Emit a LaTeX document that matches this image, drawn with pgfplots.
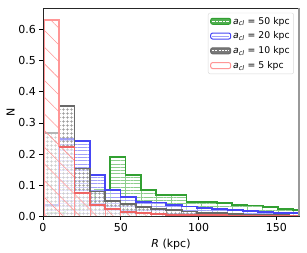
\documentclass[border=0pt]{standalone}
\usepackage{fontspec}
\setmainfont{DejaVu Sans}
\usepackage{pgfplots}
\pgfplotsset{compat=1.18}
\usetikzlibrary{patterns.meta}
\definecolor{greenD}{RGB}{50,160,50}
\definecolor{greenL}{RGB}{140,205,140}
\definecolor{blueD}{RGB}{70,70,245}
\definecolor{blueL}{RGB}{160,160,250}
\definecolor{grayD}{RGB}{105,105,105}
\definecolor{grayL}{RGB}{150,150,150}
\definecolor{redD}{RGB}{238,100,100}
\definecolor{redL}{RGB}{255,150,150}
\begin{document}
\begin{tikzpicture}
\begin{axis}[
 scale only axis, width=256pt, height=208.5pt,
 xmin=0, xmax=164.6, ymin=0, ymax=0.668,
 xtick={0,50,100,150}, ytick={0,0.1,0.2,0.3,0.4,0.5,0.6},
 tick pos=left, tick align=outside, major tick length=3.5pt,
 tick style={black, line width=0.6pt},
 /pgf/number format/assume math mode=true,
 yticklabel style={/pgf/number format/.cd, fixed, fixed zerofill, precision=1},
 tick label style={font=\fontsize{11}{13}\selectfont},
 label style={font=\fontsize{11}{13}\selectfont},
 xlabel={\textit{R} (kpc)}, ylabel={N}, ylabel shift=-3pt,
 axis line style={line width=0.7pt, black!85},
 axis on top,
 legend style={at={(0.98,0.977)}, anchor=north east, draw=black!15, rounded corners=2pt,
   font=\fontsize{9.3}{10.5}\selectfont, row sep=2.2pt, inner sep=2pt},
 legend cell align=left,
]
% ---- a_cl = 50 kpc (green)
\addplot[forget plot, ybar interval, draw=greenL, line width=0.6pt,
  preaction={fill=white, fill opacity=0.5},
  pattern={Lines[angle=0,distance=3.3pt,line width=0.6pt]}, pattern color=greenL]
 coordinates {(4.1,0.012) (13.9,0.02) (23.7,0.04) (33.5,0.085) (43.3,0.19) (53.1,0.133)
 (62.9,0.085) (72.7,0.069) (82.5,0.069) (92.3,0.047) (102.1,0.047) (111.9,0.042)
 (121.7,0.037) (131.5,0.035) (141.3,0.03) (151.1,0.023) (160.9,0.02) (170.7,0.02)};
\addplot[forget plot, const plot, draw=greenD, line width=1.8pt]
 coordinates {(4.1,0) (4.1,0.012) (13.9,0.02) (23.7,0.04) (33.5,0.085) (43.3,0.19) (53.1,0.133)
 (62.9,0.085) (72.7,0.069) (82.5,0.069) (92.3,0.047) (102.1,0.047) (111.9,0.042)
 (121.7,0.037) (131.5,0.035) (141.3,0.03) (151.1,0.023) (160.9,0.02) (170.7,0.02)};
% ---- a_cl = 20 kpc (blue)
\addplot[forget plot, ybar interval, draw=blueL, line width=0.6pt,
  preaction={fill=white, fill opacity=0.5},
  pattern={Lines[angle=0,distance=3.3pt,line width=0.6pt]}, pattern color=blueL]
 coordinates {(0.6,0.037) (10.44,0.248) (20.28,0.243) (30.12,0.133) (39.96,0.085) (49.8,0.063)
 (59.64,0.047) (69.48,0.045) (79.32,0.037) (89.16,0.032) (99.0,0.028) (108.84,0.023)
 (118.68,0.021) (128.52,0.018) (138.36,0.014) (148.2,0.012) (158.04,0.011) (167.88,0.011)};
\addplot[forget plot, const plot, draw=blueD, line width=1.8pt]
 coordinates {(0.6,0) (0.6,0.037) (10.44,0.248) (20.28,0.243) (30.12,0.133) (39.96,0.085) (49.8,0.063)
 (59.64,0.047) (69.48,0.045) (79.32,0.037) (89.16,0.032) (99.0,0.028) (108.84,0.023)
 (118.68,0.021) (128.52,0.018) (138.36,0.014) (148.2,0.012) (158.04,0.011) (167.88,0.011)};
% ---- a_cl = 10 kpc (gray)
\addplot[forget plot, ybar interval, draw=grayL, line width=0.5pt,
  preaction={fill=white, fill opacity=0.5},
  pattern={Hatch[angle=0,distance=4pt,line width=0.5pt]}, pattern color=grayL]
 coordinates {(0.6,0.267) (10.44,0.355) (20.28,0.154) (30.12,0.08) (39.96,0.05) (49.8,0.04)
 (59.64,0.03) (69.48,0.024) (79.32,0.02) (89.16,0.016) (99.0,0.012) (108.84,0.01)
 (118.68,0.008) (128.52,0.006) (138.36,0.005) (148.2,0.004) (158.04,0.003) (167.88,0.003)};
\addplot[forget plot, const plot, draw=grayD, line width=1.8pt]
 coordinates {(0.6,0) (0.6,0.267) (10.44,0.355) (20.28,0.154) (30.12,0.08) (39.96,0.05) (49.8,0.04)
 (59.64,0.03) (69.48,0.024) (79.32,0.02) (89.16,0.016) (99.0,0.012) (108.84,0.01)
 (118.68,0.008) (128.52,0.006) (138.36,0.005) (148.2,0.004) (158.04,0.003) (167.88,0.003)};
% ---- a_cl = 5 kpc (red)
\addplot[forget plot, ybar interval, draw=redL, line width=0.5pt,
  preaction={fill=white, fill opacity=0.5},
  pattern={Lines[angle=-45,distance=11.8pt,line width=0.6pt]}, pattern color=redL]
 coordinates {(0.6,0.63) (10.44,0.222) (20.28,0.074) (30.12,0.037) (39.96,0.023) (49.8,0.015)
 (59.64,0.01) (69.48,0.008) (79.32,0.006) (89.16,0.005) (99.0,0.004) (108.84,0.004)
 (118.68,0.003) (128.52,0.002) (138.36,0.002) (148.2,0.001) (158.04,0.001) (167.88,0.001)};
\addplot[forget plot, const plot, draw=redL, line width=1.8pt]
 coordinates {(0.6,0) (0.6,0.63) (10.44,0.222) (10.44,0.222)};
\addplot[forget plot, const plot, draw=redD, line width=1.8pt]
 coordinates {(10.44,0.222) (20.28,0.074) (30.12,0.037) (39.96,0.023) (49.8,0.015)
 (59.64,0.01) (69.48,0.008) (79.32,0.006) (89.16,0.005) (99.0,0.004) (108.84,0.004)
 (118.68,0.003) (128.52,0.002) (138.36,0.002) (148.2,0.001) (158.04,0.001) (167.88,0.001)};
% ---- legend
\addlegendimage{legend image code/.code={
  \draw[draw=greenD, fill=greenD!85, line width=1pt] (0pt,-3pt) rectangle (20pt,3pt);
  \draw[white, dash pattern=on 2.5pt off 1pt, line width=0.8pt] (1.5pt,0pt) -- (18.5pt,0pt);}}
\addlegendentry{\textit{a}\textsubscript{\textit{cl}} = 50 kpc}
\addlegendimage{legend image code/.code={
  \draw[draw=blueD, fill=white, line width=1pt] (0pt,-3pt) rectangle (20pt,3pt);
  \draw[blueL, line width=0.8pt] (1.5pt,0pt) -- (18.5pt,0pt);}}
\addlegendentry{\textit{a}\textsubscript{\textit{cl}} = 20 kpc}
\addlegendimage{legend image code/.code={
  \draw[draw=grayD, fill=grayD!90, line width=1pt] (0pt,-3pt) rectangle (20pt,3pt);
  \draw[white, dash pattern=on 2pt off 1.2pt, line width=1pt] (1.5pt,0pt) -- (18.5pt,0pt);}}
\addlegendentry{\textit{a}\textsubscript{\textit{cl}} = 10 kpc}
\addlegendimage{legend image code/.code={
  \draw[draw=redL, fill=white, line width=1pt] (0pt,-3pt) rectangle (20pt,3pt);}}
\addlegendentry{\textit{a}\textsubscript{\textit{cl}} = 5 kpc}
\end{axis}
\draw[black!40, line width=2.2pt] (current axis.south east) -- (current axis.north east);
\path ([shift={(-43pt,-36.5pt)}]current axis.south west) rectangle ([shift={(8pt,8pt)}]current axis.north east);
\end{tikzpicture}
\end{document}
